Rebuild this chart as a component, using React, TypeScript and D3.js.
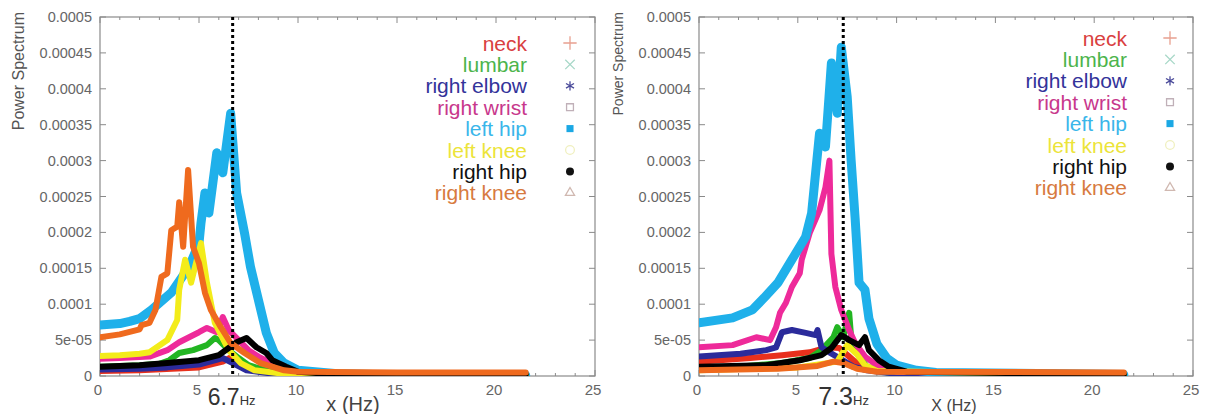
import * as d3 from "d3";

// values are in units of 1e-5, [frequency Hz, power]
const L_NECK: [number, number][] = [[0, 0.7], [2, 0.8], [5, 1.2], [6.2, 2.0], [6.6, 2.6], [7.1, 2.0], [8, 0.8], [10, 0.3], [21.5, 0.1]];
const L_LUMBAR: [number, number][] = [[0, 1.3], [2, 1.5], [3, 1.7], [3.5, 2.2], [4.0, 3.2], [4.7, 3.6], [5.4, 4.3], [5.8, 5.3], [6.0, 5.0], [6.5, 3.6], [7.0, 2.5], [7.5, 1.5], [8.5, 0.7], [10, 0.3], [21.5, 0.1]];
const L_ELBOW: [number, number][] = [[0, 0.9], [2, 1.0], [3.4, 1.2], [5, 1.6], [6.2, 2.5], [6.7, 1.8], [7.4, 0.8], [8.5, 0.4], [21.5, 0.1]];
const L_WRIST: [number, number][] = [[0, 2.4], [1, 2.5], [2.5, 2.7], [3.4, 3.6], [4.0, 4.7], [4.5, 5.4], [5.0, 6.1], [5.4, 6.7], [5.9, 6.1], [6.2, 8.2], [6.5, 6.4], [7.0, 5.0], [7.5, 3.6], [8.0, 2.7], [9.0, 1.3], [9.9, 0.8], [12, 0.3], [21.5, 0.1]];
const L_LHIP: [number, number][] = [[0, 7.1], [1, 7.3], [1.5, 7.6], [2, 8.0], [2.6, 9.2], [3.6, 11.6], [4.5, 15.2], [5.0, 18.5], [5.1, 21.3], [5.3, 25.5], [5.5, 22.7], [5.9, 31.1], [6.2, 28.3], [6.6, 36.6], [6.9, 25.5], [7.3, 19.9], [7.6, 15.2], [8.0, 10.6], [8.4, 6.0], [8.8, 3.2], [9.3, 1.8], [10, 0.8], [12, 0.3], [15, 0.15], [21.5, 0.1]];
const L_LKNEE: [number, number][] = [[0, 2.8], [1, 2.9], [2, 3.1], [2.5, 3.3], [3.4, 5.0], [3.9, 7.8], [4.0, 12.0], [4.3, 16.2], [4.6, 13.0], [5.1, 18.5], [5.4, 13.0], [5.8, 7.4], [6.5, 3.6], [7.1, 1.8], [7.8, 0.8], [9, 0.4], [21.5, 0.1]];
const L_RHIP: [number, number][] = [[0, 1.3], [2, 1.5], [3.4, 1.8], [5, 2.2], [6, 2.9], [6.5, 3.9], [6.9, 4.7], [7.4, 5.3], [7.9, 4.0], [8.4, 3.2], [8.7, 2.2], [9.4, 1.3], [10, 0.6], [11, 0.4], [21.5, 0.2]];
const L_RKNEE: [number, number][] = [[0, 5.4], [1, 5.8], [2, 6.5], [2.1, 7.1], [2.5, 7.4], [2.8, 9.2], [3.1, 13.8], [3.4, 14.3], [3.6, 20.3], [3.9, 20.8], [4.0, 24.2], [4.2, 18.0], [4.45, 28.7], [4.7, 18.0], [5.0, 15.7], [5.3, 11.6], [5.6, 9.2], [6.1, 6.8], [6.6, 4.6], [7.3, 3.2], [8.1, 1.8], [9.3, 0.8], [10, 0.6], [15, 0.5], [21.5, 0.5]];

const R_NECK: [number, number][] = [[0, 2.0], [2.6, 2.5], [4.2, 2.9], [5.6, 3.3], [6.5, 4.0], [7.1, 3.9], [7.6, 2.7], [8.1, 1.5], [8.8, 0.8], [10, 0.4], [21.5, 0.1]];
const R_LUMBAR: [number, number][] = [[0, 1.2], [2, 1.3], [4.2, 1.8], [5.6, 2.5], [6.2, 3.6], [6.8, 5.4], [7.0, 6.8], [7.3, 5.4], [7.6, 8.8], [7.7, 5.4], [8.1, 2.7], [8.5, 1.3], [9.5, 0.5], [21.5, 0.1]];
const R_ELBOW: [number, number][] = [[0, 2.7], [2.1, 3.1], [3.4, 3.6], [3.9, 4.0], [4.2, 6.1], [4.7, 6.4], [5.4, 6.0], [5.9, 5.7], [6.0, 6.4], [6.2, 4.0], [6.6, 3.3], [7.1, 2.5], [7.8, 1.3], [8.5, 0.8], [10, 0.3], [21.5, 0.1]];
const R_WRIST: [number, number][] = [[0, 4.0], [1.7, 4.3], [2.9, 5.4], [3.6, 5.0], [3.9, 6.8], [4.1, 8.8], [4.4, 10.2], [4.7, 12.4], [5.1, 14.3], [5.2, 16.2], [5.6, 19.9], [6.1, 23.1], [6.4, 26.3], [6.6, 30.0], [6.7, 17.0], [6.9, 12.4], [7.2, 9.2], [7.6, 6.4], [7.9, 4.6], [8.4, 2.7], [9.1, 1.3], [10, 0.6], [21.5, 0.1]];
const R_LHIP: [number, number][] = [[0, 7.4], [1.7, 8.1], [2.7, 9.2], [3.3, 10.9], [4.0, 13.0], [4.7, 16.2], [5.4, 19.4], [5.7, 22.7], [6.1, 33.8], [6.4, 31.9], [6.7, 43.6], [7.0, 36.6], [7.2, 45.8], [7.5, 38.9], [7.7, 30.0], [7.9, 22.0], [8.1, 13.0], [8.4, 12.0], [8.6, 8.0], [9.0, 4.5], [9.5, 2.5], [10, 1.5], [11, 0.8], [12, 0.5], [21.5, 0.2]];
const R_LKNEE: [number, number][] = [[0, 0.8], [5, 1.2], [7.0, 2.0], [7.5, 4.3], [8.0, 3.0], [8.4, 1.5], [9, 0.7], [21.5, 0.1]];
const R_RHIP: [number, number][] = [[0, 1.3], [3.4, 1.5], [5.1, 2.2], [6.2, 2.9], [6.7, 3.9], [7.2, 5.7], [7.6, 5.0], [8.1, 4.3], [8.4, 5.4], [8.6, 3.6], [9.1, 2.2], [9.6, 1.3], [10.5, 0.6], [21.5, 0.2]];
const R_RKNEE: [number, number][] = [[0, 0.8], [4, 1.0], [6, 1.4], [6.8, 2.0], [7.3, 1.8], [8, 1.0], [9, 0.6], [21.5, 0.5]];

const seriesNames = ["neck", "lumbar", "right elbow", "right wrist", "left hip", "left knee", "right hip", "right knee"];
const lineColors = ["#e8301c", "#22b522", "#2b2b9b", "#ee2a9a", "#1fb0ea", "#f3ec1a", "#000000", "#ef6a1e"];
const legendColors = ["#d94040", "#4cb44c", "#33339a", "#c8388c", "#3ab6ea", "#ece43a", "#111111", "#d77a40"];
const symbolColors = ["#e8a090", "#a8d8c8", "#4a4a9a", "#c0b0b8", "#1ba8e4", "#f0f0c0", "#111111", "#d0b8b0"];

const yTicks = [0, 0.00005, 0.0001, 0.00015, 0.0002, 0.00025, 0.0003, 0.00035, 0.0004, 0.00045, 0.0005];
const yTickLabels = ["0", "5e-05", "0.0001", "0.00015", "0.0002", "0.00025", "0.0003", "0.00035", "0.0004", "0.00045", "0.0005"];
const xTicks = [0, 5, 10, 15, 20, 25];

const panels = [
  { x0: 100, x1: 595, ylx: 18, ylSize: 16, marker: 6.7, markLabel: "6.7", markSize: 23, xlabel: "x (Hz)", xlabelX: 353, xlabelSize: 20, legendX: 527, legendY: 43,
    data: [L_NECK, L_LUMBAR, L_ELBOW, L_WRIST, L_LHIP, L_LKNEE, L_RHIP, L_RKNEE] },
  { x0: 699, x1: 1193, ylx: 618, ylSize: 14, marker: 7.3, markLabel: "7.3", markSize: 25, xlabel: "X (Hz)", xlabelX: 954, xlabelSize: 16, legendX: 1127, legendY: 38,
    data: [R_NECK, R_LUMBAR, R_ELBOW, R_WRIST, R_LHIP, R_LKNEE, R_RHIP, R_RKNEE] },
];

const Y0 = 17, Y1 = 376;
const FONT = "'Liberation Sans', Arial, sans-serif";

const symbolTypes = [d3.symbolPlus, d3.symbolTimes, d3.symbolAsterisk, d3.symbolSquare2, d3.symbolSquare, d3.symbolCircle, d3.symbolCircle, d3.symbolTriangle2];
const symbolFilled = [false, false, false, false, true, false, true, false];

const Panel = ({ p, idx }: { p: any; idx: number }) => {
  const xs = d3.scaleLinear().domain([0, 25]).range([p.x0, p.x1]);
  const ys = d3.scaleLinear().domain([0, 0.0005]).range([Y1, Y0]);
  const line = d3.line<[number, number]>().x((d) => xs(d[0])).y((d) => ys(d[1] * 1e-5));
  const minor = d3.range(0, 26, 1).filter((v) => v % 5 !== 0);
  const clipId = `clip${idx}`;

  return (
    <g>
      <defs>
        <clipPath id={clipId}>
          <rect x={p.x0} y={Y0} width={p.x1 - p.x0} height={Y1 - Y0} />
        </clipPath>
      </defs>
      <rect x={p.x0} y={Y0} width={p.x1 - p.x0} height={Y1 - Y0} fill="none" stroke="#8a8a8a" strokeWidth={1.2} />
      {yTicks.map((t, i) => (
        <g key={i}>
          <line x1={p.x0} x2={p.x0 + 6} y1={ys(t)} y2={ys(t)} stroke="#8a8a8a" />
          <line x1={p.x1} x2={p.x1 - 6} y1={ys(t)} y2={ys(t)} stroke="#8a8a8a" />
          <text x={p.x0 - 8} y={ys(t)} textAnchor="end" dominantBaseline="central" fontSize={14.5} fill="#666" fontFamily={FONT}>
            {yTickLabels[i]}
          </text>
        </g>
      ))}
      {xTicks.map((t) => (
        <g key={t}>
          <line x1={xs(t)} x2={xs(t)} y1={Y1} y2={Y1 - 6} stroke="#8a8a8a" />
          <line x1={xs(t)} x2={xs(t)} y1={Y0} y2={Y0 + 6} stroke="#8a8a8a" />
          <text x={xs(t) - 2} y={395} textAnchor="middle" fontSize={15} fill="#666" fontFamily={FONT}>
            {t}
          </text>
        </g>
      ))}
      {minor.map((t) => (
        <g key={"m" + t}>
          <line x1={xs(t)} x2={xs(t)} y1={Y1} y2={Y1 - 3} stroke="#8a8a8a" />
          <line x1={xs(t)} x2={xs(t)} y1={Y0} y2={Y0 + 3} stroke="#8a8a8a" />
        </g>
      ))}
      <g clipPath={`url(#${clipId})`}>
        {p.data.map((s: [number, number][], i: number) => (
          <path key={i} d={line(s) || ""} fill="none" stroke={lineColors[i]} strokeWidth={i === 4 ? 9 : 6} strokeLinejoin="round" strokeLinecap="round" />
        ))}
      </g>
      <line x1={xs(p.marker)} x2={xs(p.marker)} y1={Y0} y2={Y1} stroke="#000" strokeWidth={3} strokeDasharray="3,3" />
      {seriesNames.map((n, i) => {
        const y = p.legendY + i * 21.4;
        const sym = d3.symbol().type(symbolTypes[i]).size(symbolFilled[i] ? 50 : 60)();
        return (
          <g key={n}>
            <text x={p.legendX} y={y} textAnchor="end" dominantBaseline="central" fontSize={21} fill={legendColors[i]} fontFamily={FONT}>
              {n}
            </text>
            <path d={sym || ""} transform={`translate(${p.legendX + 43},${y})`} fill={symbolFilled[i] ? symbolColors[i] : "none"} stroke={symbolFilled[i] ? "none" : symbolColors[i]} strokeWidth={1.3} />
          </g>
        );
      })}
      <text transform={`translate(${p.ylx},${Y0 - 5}) rotate(-90)`} textAnchor="end" dominantBaseline="central" fontSize={p.ylSize} fill="#555" fontFamily={FONT}>
        Power Spectrum
      </text>
      <text x={xs(p.marker) - 25} y={405} fontSize={p.markSize} fill="#333" fontFamily={FONT}>
        {p.markLabel}
        <tspan fontSize={13}>Hz</tspan>
      </text>
      <text x={p.xlabelX} y={411} textAnchor="middle" fontSize={p.xlabelSize} fill="#444" fontFamily={FONT}>
        {p.xlabel}
      </text>
    </g>
  );
};

export default function App() {
  return (
    <div style={{ position: "absolute", left: 0, top: 0 }}>
      <svg width={1208} height={414} style={{ display: "block", background: "#fff" }}>
        {panels.map((p, i) => (
          <Panel key={i} p={p} idx={i} />
        ))}
      </svg>
    </div>
  );
}
